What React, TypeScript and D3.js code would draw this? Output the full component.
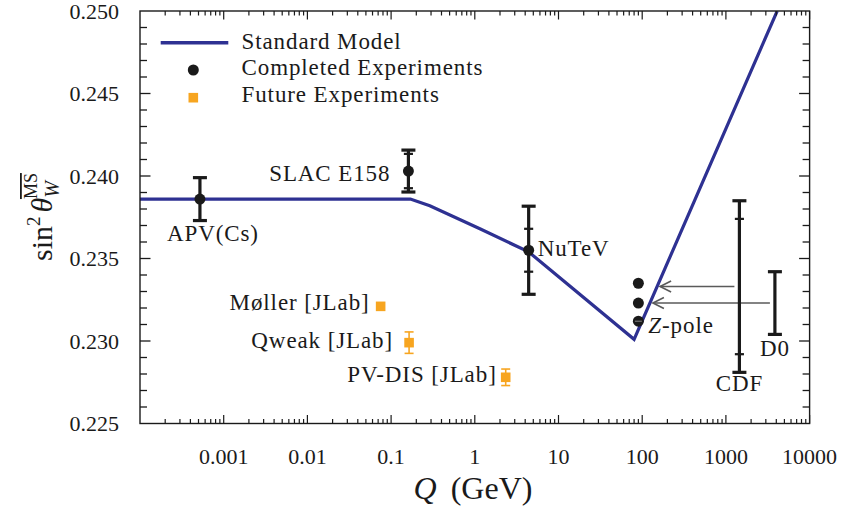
import React from "react";
import * as d3 from "d3";

// ---------- data ----------
const xTickValues = [0.001, 0.01, 0.1, 1, 10, 100, 1000, 10000];
const xTickLabels = ["0.001", "0.01", "0.1", "1", "10", "100", "1000", "10000"];
const yTickValues = [0.225, 0.23, 0.235, 0.24, 0.245, 0.25];
const yTickLabels = ["0.225", "0.230", "0.235", "0.240", "0.245", "0.250"];

const smQ = [0.0001, 0.17, 0.29, 1.15, 4.4, 80, 4100];
const smValue = [0.2386, 0.2386, 0.2382, 0.2368, 0.2354, 0.2301, 0.25];

const doneNames = ["APV(Cs)", "SLAC E158", "NuTeV", "", "", "Z-pole"];
const doneQ = [0.00052, 0.161, 4.4, 90, 90, 90];
const doneValue = [0.2386, 0.2403, 0.2355, 0.2335, 0.2323, 0.2312];
const doneTotalErr = [0.0013, 0.00127, 0.00267, 0, 0, 0.00015];
const doneStatErr = [0, 0.00104, 0.0013, 0, 0, 0];

const tevNames = ["CDF", "D0"];
const tevQ = [1450, 3850];
const tevValue = [0.2333, 0.2323];
const tevTotalErr = [0.0052, 0.0019];
const tevStatErr = [0.0041, 0];

const futureNames = ["Møller [JLab]", "Qweak [JLab]", "PV-DIS [JLab]"];
const futureQ = [0.075, 0.164, 2.34];
const futureValue = [0.2321, 0.2299, 0.2278];
const futureErr = [0.0001, 0.00065, 0.0005];

const legendLabels = ["Standard Model", "Completed Experiments", "Future Experiments"];

// ---------- layout / style ----------
const W = 841;
const H = 510;
const L = 140, R = 809.6, T = 11, B = 423.5;
const FONT = "'Liberation Serif', 'Times New Roman', serif";
const BLUE = "#2e3192";
const ORANGE = "#f7a520";
const INK = "#1a1a1a";

const doneLabelPos = [
  { dx: 13, dy: 42, anchor: "middle" },
  { dx: -18, dy: 10, anchor: "end" },
  { dx: 9, dy: 6, anchor: "start" },
  null,
  null,
  { dx: 10, dy: 12, anchor: "start" },
];
const futureLabelPos = [
  { dx: -11, dy: 4 },
  { dx: -16, dy: 5 },
  { dx: -9, dy: 5 },
];
const tevLabelGap = [19, 22];

export default function App() {
  const x = d3.scaleLog().domain([1e-4, 1e4]).range([L, R]);
  const y = d3.scaleLinear().domain([0.225, 0.25]).range([B, T]);

  const smPts: [number, number][] = smQ.map((q, i) => [q, smValue[i]]);
  const line = d3
    .line<[number, number]>()
    .x((d) => x(d[0]))
    .y((d) => y(d[1]));

  const xMinor: number[] = [];
  for (let e = -4; e < 4; e++) {
    for (let k = 2; k <= 9; k++) xMinor.push(k * Math.pow(10, e));
  }
  const yMinor: number[] = d3.range(226, 250).map((v) => v / 1000);

  const smPix = smPts.map((d) => [x(d[0]), y(d[1])]);
  const lineXAt = (py: number) => {
    const a = smPix[smPix.length - 2];
    const b = smPix[smPix.length - 1];
    const t = (py - a[1]) / (b[1] - a[1]);
    return a[0] + t * (b[0] - a[0]);
  };

  const wordStyle = { letterSpacing: "0.9px" } as React.CSSProperties;

  const errBar = (
    cx: number,
    v: number,
    tot: number,
    stat: number,
    color: string,
    sw: number,
    cap: number,
    key: string
  ) => {
    const y1 = y(v + tot);
    const y2 = y(v - tot);
    return (
      <g key={key} stroke={color} strokeWidth={sw} fill="none">
        <line x1={cx} x2={cx} y1={y1} y2={y2} />
        <line x1={cx - cap} x2={cx + cap} y1={y1} y2={y1} />
        <line x1={cx - cap} x2={cx + cap} y1={y2} y2={y2} />
        {stat > 0 && (
          <>
            <line x1={cx - cap * 0.65} x2={cx + cap * 0.65} y1={y(v + stat)} y2={y(v + stat)} strokeWidth={sw * 0.7} />
            <line x1={cx - cap * 0.65} x2={cx + cap * 0.65} y1={y(v - stat)} y2={y(v - stat)} strokeWidth={sw * 0.7} />
          </>
        )}
      </g>
    );
  };

  const arrow = (x0: number, x1: number, py: number, key: string) => (
    <g key={key} stroke="#5a5a5a" strokeWidth={1.6} fill="none">
      <line x1={x0} x2={x1} y1={py} y2={py} />
      <path d={`M${x1 + 11},${py - 5.5} L${x1},${py} L${x1 + 11},${py + 5.5}`} />
    </g>
  );

  return (
    <svg
      width={W}
      height={H}
      style={{ position: "absolute", left: 0, top: 0, background: "#fff" }}
      fontFamily={FONT}
    >
      <rect x={0} y={0} width={W} height={H} fill="#fff" />

      <defs>
        <clipPath id="plotclip">
          <rect x={L} y={T} width={R - L} height={B - T} />
        </clipPath>
      </defs>
      <path d={line(smPts) || ""} fill="none" stroke={BLUE} strokeWidth={3.2} strokeLinejoin="miter" clipPath="url(#plotclip)" />

      {tevQ.map((q, i) => {
        const py = y(tevValue[i]);
        return arrow(x(q) - 5, lineXAt(py) + 3, py, "ar" + i);
      })}

      {tevQ.map((q, i) => errBar(x(q), tevValue[i], tevTotalErr[i], tevStatErr[i], INK, 3.2, 7, "tev" + i))}
      {tevNames.map((n, i) => (
        <text key={"tl" + i} x={x(tevQ[i])} y={y(tevValue[i] - tevTotalErr[i]) + tevLabelGap[i]} fontSize={23} textAnchor="middle" fill={INK} style={wordStyle}>
          {n}
        </text>
      ))}

      {doneQ.map((q, i) =>
        doneTotalErr[i] > 0.0005
          ? errBar(x(q), doneValue[i], doneTotalErr[i], doneStatErr[i], INK, 3.2, 7, "de" + i)
          : null
      )}
      {doneQ.map((q, i) => (
        <circle key={"dc" + i} cx={x(q)} cy={y(doneValue[i])} r={5.5} fill={INK} />
      ))}
      {doneQ.map((q, i) =>
        doneTotalErr[i] > 0 && doneTotalErr[i] <= 0.0005 ? (
          <g key={"dz" + i} stroke="#fff" strokeWidth={0.8} opacity={0.6}>
            <line x1={x(q) - 3.5} x2={x(q) + 3.5} y1={y(doneValue[i])} y2={y(doneValue[i])} />
          </g>
        ) : null
      )}
      {doneNames.map((n, i) => {
        const p = doneLabelPos[i];
        if (!n || !p) return null;
        const px = x(doneQ[i]) + p.dx;
        const py = y(doneValue[i]) + p.dy;
        if (n === "Z-pole") {
          return (
            <text key={"dl" + i} x={px} y={py} fontSize={23} textAnchor={p.anchor as any} fill={INK} style={wordStyle}>
              <tspan fontStyle="italic">Z</tspan>-pole
            </text>
          );
        }
        return (
          <text key={"dl" + i} x={px} y={py} fontSize={23} textAnchor={p.anchor as any} fill={INK} style={wordStyle}>
            {n}
          </text>
        );
      })}

      {futureQ.map((q, i) => (
        <g key={"f" + i}>
          {futureErr[i] > 0.0002 && errBar(x(q), futureValue[i], futureErr[i], 0, ORANGE, 1.6, 4.5, "fe" + i)}
          <rect x={x(q) - 4.8} y={y(futureValue[i]) - 4.8} width={9.6} height={9.6} fill={ORANGE} />
        </g>
      ))}
      {futureNames.map((n, i) => (
        <text key={"fl" + i} x={x(futureQ[i]) + futureLabelPos[i].dx} y={y(futureValue[i]) + futureLabelPos[i].dy} fontSize={23} textAnchor="end" fill={INK} style={wordStyle}>
          {n}
        </text>
      ))}

      <rect x={L} y={T} width={R - L} height={B - T} fill="none" stroke={INK} strokeWidth={1.4} />

      {xMinor.map((v, i) => (
        <g key={"xm" + i} stroke={INK} strokeWidth={1.2}>
          <line x1={x(v)} x2={x(v)} y1={B} y2={B - 4.5} />
          <line x1={x(v)} x2={x(v)} y1={T} y2={T + 4.5} />
        </g>
      ))}
      {xTickValues.map((v, i) => (
        <g key={"xM" + i}>
          <line x1={x(v)} x2={x(v)} y1={B} y2={B - 8.5} stroke={INK} strokeWidth={1.2} />
          <line x1={x(v)} x2={x(v)} y1={T} y2={T + 8.5} stroke={INK} strokeWidth={1.2} />
          <text x={x(v)} y={464} fontSize={22} textAnchor="middle" fill={INK}>
            {xTickLabels[i]}
          </text>
        </g>
      ))}

      {yMinor.map((v, i) => {
        const major = Math.abs((v * 1000) % 5) < 1e-6;
        const len = major ? 10.5 : 7;
        return (
          <g key={"ym" + i} stroke={INK} strokeWidth={1.3}>
            <line x1={L} x2={L + len} y1={y(v)} y2={y(v)} />
            <line x1={R} x2={R - len} y1={y(v)} y2={y(v)} />
          </g>
        );
      })}
      {yTickValues.map((v, i) => (
        <text key={"yl" + i} x={119} y={y(v)} dy="0.36em" fontSize={22} textAnchor="end" fill={INK}>
          {yTickLabels[i]}
        </text>
      ))}

      <text x={473} y={499} fontSize={32} textAnchor="middle" fill={INK}>
        <tspan fontStyle="italic">Q</tspan>
        <tspan dx={14}>(GeV)</tspan>
      </text>
      <g transform={`translate(52,217) rotate(-90)`}>
        <text fontSize={30} textAnchor="middle" fill={INK}>
          sin
          <tspan dy={-12} fontSize={19}>2</tspan>
          <tspan dy={12} dx={4} fontStyle="italic">θ</tspan>
          <tspan dy={7} fontSize={20} fontStyle="italic">W</tspan>
          <tspan dx={-18} dy={-22} fontSize={18} textDecoration="overline">MS</tspan>
        </text>
      </g>

      <line x1={160.7} x2={228.3} y1={42.7} y2={42.7} stroke={BLUE} strokeWidth={3.6} />
      <circle cx={193.3} cy={70} r={5.5} fill={INK} />
      <rect x={188.5} y={92.9} width={9.6} height={9.6} fill={ORANGE} />
      {legendLabels.map((t, i) => (
        <text key={"lg" + i} x={241.5} y={48.5 + i * 26.7} fontSize={23} fill={INK} style={wordStyle}>
          {t}
        </text>
      ))}
    </svg>
  );
}
